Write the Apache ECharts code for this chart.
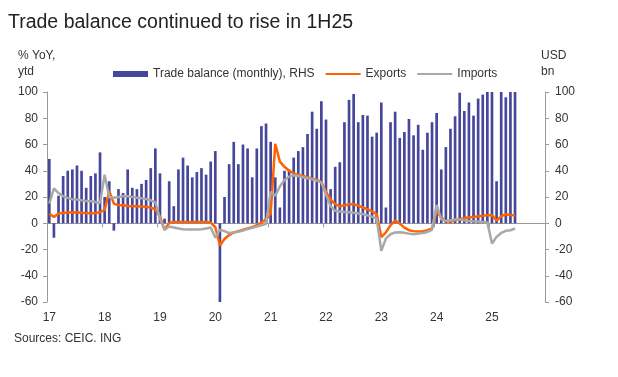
<!DOCTYPE html>
<html>
<head>
<meta charset="utf-8">
<script src="https://cdn.jsdelivr.net/npm/echarts@6/dist/echarts.min.js"></script>
<style>
  html, body { margin: 0; padding: 0; background: #fff; }
  #chart { width: 618px; height: 377px; }
</style>
</head>
<body>
<div id="chart"></div>
<script>
    var FONT = '"Liberation Sans", Arial, sans-serif';

    // x axis runs Jan 2017 .. Dec 2025, data stops at Jun 2025
    var years = ['17', '18', '19', '20', '21', '22', '23', '24', '25'];
    var monthNames = ['01', '02', '03', '04', '05', '06', '07', '08', '09', '10', '11', '12'];

    // USD bn, monthly (RHS)
    var tradeBalance = [
        49, -11, 21, 36, 40, 41, 44, 40, 27, 36, 38, 54,
        20, 32, -5.6, 26, 23, 41, 27, 26, 30, 33, 42, 57,
        38, 3.5, 32, 13, 41, 50, 44, 35, 39, 42, 37, 47,
        55, -60, 20, 45, 62, 45, 60, 57, 35, 57, 74, 76,
        62, 35, 12, 40, 41, 50, 55, 58, 68, 85, 72, 93,
        79, 26, 43, 46.5, 77, 94, 98.5, 77, 82.5, 82, 66, 69,
        92, 12, 77, 85, 65, 69.5, 79.5, 67, 75, 56, 69, 77,
        84, 41, 58, 72, 81.5, 99.5, 85.5, 92, 82, 95, 98, 100,
        100, 32, 100, 96, 100, 100
    ];

    // % YoY, ytd (LHS)
    var exportsYtd = [
        7.5, 4.8, 7.4, 7.9, 8.1, 8.4, 8.2, 8.0, 7.6, 7.6, 7.8, 8.4,
        10, 24.5, 15, 13.7, 13.7, 13.2, 13, 13, 12.8, 12.4, 12, 10.4,
        5, -5, 0.3, 1, 1, 1, 1, 1, 1, 1, 1, 0.5,
        -3, -17, -12, -9, -7, -6, -5, -4, -3, -1.5, 0.5, 3,
        7, 60.5, 47, 43, 40, 38, 37, 36, 35, 34, 33, 31.5,
        24, 18, 14.5, 13, 13.5, 14.5, 14.5, 13.5, 12, 10.5, 9, 7,
        -10.5, -7, -1.5, 2, -0.3, -3.3, -5.3, -6, -6.3, -6, -5.3, -4,
        9, 4.5, 1.5, 1.3, 2.3, 3, 4, 4.6, 4.6, 5.3, 5.8, 6.1,
        6.3, 2, 5.3, 6.9, 6.3, 6.1
    ];

    var importsYtd = [
        15, 26.5, 23, 20.5, 19.3, 18.3, 18, 17.5, 17, 16.8, 16.2, 15.5,
        37, 20, 19.5, 20, 20.5, 20.5, 20, 19.5, 19, 18.5, 17.5, 16,
        3.5, -5, -2.5, -3.3, -4, -4.5, -4.7, -4.7, -4.8, -4.5, -4, -3.3,
        -11, -5, -6, -7.5, -7, -6.5, -5.5, -4.5, -3.5, -2.5, -1.5, -0.5,
        24, 21, 28, 33, 35.5, 36.5, 36, 35, 34.3, 33.5, 32.5, 31,
        22, 13, 9.5, 9, 8.5, 8.3, 8, 7.5, 7, 6, 5, 3.5,
        -21, -11.5, -8.4, -7, -6.8, -7.2, -7.9, -8.4, -7.9, -7.4, -6.6, -5,
        14, 3, 1.8, 2.3, 2.8, 2.8, 2.3, 1.8, 1.5, 1.3, 1, 0.5,
        -15.5, -10.4, -7.4, -5.8, -5.3, -4
    ];

    var months = [];
    years.forEach(function (y) {
        monthNames.forEach(function (m) { months.push(y + '-' + m); });
    });

    var axisGrey = '#9a9a9a';
    var textColor = '#333';

    var myChart = echarts.init(document.getElementById('chart'));
    var option = {
        backgroundColor: '#fff',
        animation: false,
        title: {
            text: 'Trade balance continued to rise in 1H25',
            left: 3,
            top: 8,
            textStyle: { fontFamily: FONT, fontSize: 19.5, fontWeight: 'normal', color: '#222' }
        },
        legend: {
            left: 108,
            top: 63,
            itemWidth: 35,
            itemHeight: 6,
            itemGap: 10,
            textStyle: { fontFamily: FONT, fontSize: 12, color: textColor },
            data: [
                { name: 'Trade balance (monthly), RHS', icon: 'rect' },
                { name: 'Exports', itemStyle: { opacity: 0 } },
                { name: 'Imports', itemStyle: { opacity: 0 } }
            ]
        },
        graphic: [
            { type: 'text', left: 18, top: 48, style: { text: '% YoY,\nytd', font: '12px ' + FONT, fill: textColor, lineHeight: 16 } },
            { type: 'text', left: 541, top: 48, style: { text: 'USD\nbn', font: '12px ' + FONT, fill: textColor, lineHeight: 16 } },
            { type: 'text', left: 14, top: 333, style: { text: 'Sources: CEIC. ING', font: '12px ' + FONT, fill: textColor } }
        ],
        grid: { left: 47, right: 73, top: 92, bottom: 75 },
        xAxis: [
            {
                type: 'category',
                data: months,
                boundaryGap: true,
                axisLine: { show: false, onZero: false },
                axisTick: { show: false },
                axisLabel: {
                    interval: function (i) { return i % 12 === 0; },
                    formatter: function (v) { return v.slice(0, 2); },
                    margin: 10,
                    fontFamily: FONT,
                    fontSize: 12,
                    color: textColor
                }
            },
            {
                type: 'category',
                data: months,
                boundaryGap: true,
                position: 'bottom',
                axisLine: { show: true, onZero: true, onZeroAxisIndex: 0, lineStyle: { color: axisGrey, width: 1 } },
                axisTick: {
                    show: true,
                    length: 4,
                    interval: function (i) { return i % 12 === 0; },
                    lineStyle: { color: axisGrey }
                },
                axisLabel: { show: false }
            }
        ],
        yAxis: [
            {
                type: 'value',
                position: 'left',
                min: -60, max: 100, interval: 20,
                splitLine: { show: false },
                axisLine: { show: true, lineStyle: { color: axisGrey } },
                axisTick: { show: true, length: 4, lineStyle: { color: axisGrey } },
                axisLabel: { margin: 9, fontFamily: FONT, fontSize: 12, color: textColor }
            },
            {
                type: 'value',
                position: 'right',
                min: -60, max: 100, interval: 20,
                splitLine: { show: false },
                axisLine: { show: true, lineStyle: { color: axisGrey } },
                axisTick: { show: true, length: 4, lineStyle: { color: axisGrey } },
                axisLabel: { margin: 10, fontFamily: FONT, fontSize: 12, color: textColor }
            }
        ],
        series: [
            {
                name: 'Trade balance (monthly), RHS',
                type: 'bar',
                xAxisIndex: 0,
                yAxisIndex: 1,
                barWidth: '58%',
                itemStyle: { color: '#46469a' },
                data: tradeBalance
            },
            {
                name: 'Exports',
                type: 'line',
                xAxisIndex: 0,
                yAxisIndex: 0,
                symbol: 'none',
                z: 3,
                lineStyle: { color: '#ff6200', width: 2.5 },
                itemStyle: { color: '#ff6200' },
                data: exportsYtd
            },
            {
                name: 'Imports',
                type: 'line',
                xAxisIndex: 0,
                yAxisIndex: 0,
                symbol: 'none',
                z: 4,
                lineStyle: { color: '#a8a8a8', width: 2.5 },
                itemStyle: { color: '#a8a8a8' },
                data: importsYtd
            }
        ]
    };
    myChart.setOption(option);
</script>
</body>
</html>
